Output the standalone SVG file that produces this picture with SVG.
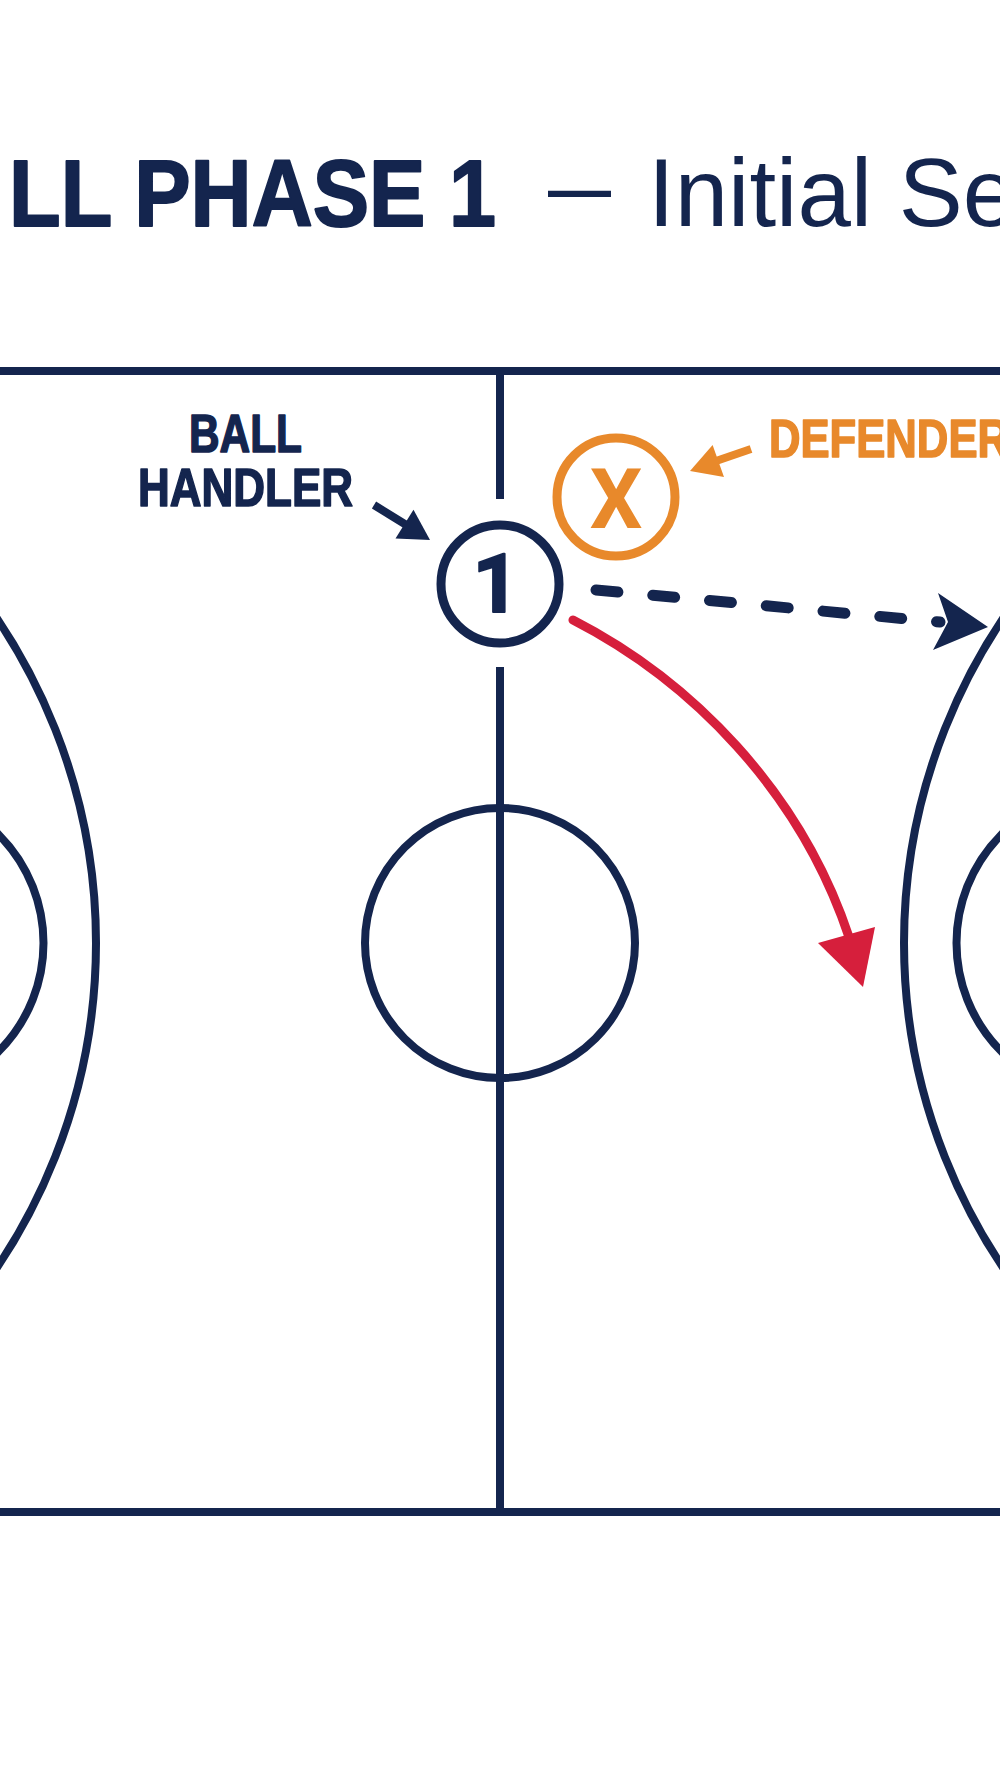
<svg xmlns="http://www.w3.org/2000/svg" width="1000" height="1792" viewBox="0 0 1000 1792">
<style>
.court{fill:none;stroke:#14254E;stroke-width:8}
.navy{fill:#14254E}
.orange{fill:#E8892B}
.red{fill:#D61F3C}
.title{font-family:"Liberation Sans",Arial,sans-serif;fill:#14254E}
.lbl{font-family:"Liberation Sans",Arial,sans-serif;font-weight:bold;font-size:53px;stroke-width:1.6;stroke-linejoin:round}
.num{font-family:Roboto,"Liberation Sans",Arial,sans-serif;font-weight:bold;text-anchor:middle;stroke-width:2;stroke-linejoin:round}
</style>
<rect width="1000" height="1792" fill="#FFFFFF"/>
<g id="title">
<text class="title" x="9" y="226" font-size="95" font-weight="bold" textLength="487" lengthAdjust="spacingAndGlyphs" stroke="#14254E" stroke-width="2" stroke-linejoin="round">LL PHASE 1</text>
<text class="title" x="548" y="218" font-size="95" textLength="63" lengthAdjust="spacingAndGlyphs">—</text>
<text class="title" x="648" y="226" font-size="96">Initial Se</text>
</g>
<g id="court">
<line class="court" x1="0" y1="371" x2="1000" y2="371"/>
<line class="court" x1="0" y1="1512" x2="1000" y2="1512"/>
<line class="court" x1="500" y1="371" x2="500" y2="499"/>
<line class="court" x1="500" y1="667" x2="500" y2="1512"/>
<circle class="court" cx="500" cy="943" r="135"/>
<circle class="court" cx="-485" cy="943" r="581"/>
<circle class="court" cx="-110" cy="943" r="153.5"/>
<circle class="court" cx="1485" cy="943" r="581"/>
<circle class="court" cx="1110" cy="943" r="153.5"/>
</g>
<g id="player1">
<circle cx="500" cy="584" r="59" fill="none" stroke="#14254E" stroke-width="9"/>
<text class="num navy" stroke="#14254E" x="496" y="612" font-size="82">1</text>
</g>
<g id="defender">
<circle cx="616" cy="497" r="59" fill="none" stroke="#E8892B" stroke-width="9"/>
<text class="num orange" x="616" y="528" font-size="83">X</text>
</g>
<g id="label-ball-handler">
<text class="lbl navy" stroke="#14254E" x="189" y="452" textLength="113" lengthAdjust="spacingAndGlyphs">BALL</text>
<text class="lbl navy" stroke="#14254E" x="138" y="506" textLength="215" lengthAdjust="spacingAndGlyphs">HANDLER</text>
</g>
<g id="label-defender">
<text class="lbl orange" stroke="#E8892B" x="769" y="457" textLength="240" lengthAdjust="spacingAndGlyphs">DEFENDER</text>
</g>
<g id="connectors">
<line x1="374" y1="505" x2="408" y2="526" stroke="#14254E" stroke-width="8"/>
<polygon class="navy" points="430,540 395.5,538.6 413.5,509.7"/>
<line x1="751" y1="449" x2="716" y2="461" stroke="#E8892B" stroke-width="8"/>
<polygon class="orange" points="690,471 712.6,445 724,477"/>
<line x1="596" y1="590" x2="940" y2="622" stroke="#14254E" stroke-width="11" stroke-linecap="round" stroke-dasharray="22 35"/>
<polygon class="navy" points="988,627 938,593 948,622 933,650"/>
<path d="M573,620 C690,680 800,790 849,937" fill="none" stroke="#D61F3C" stroke-width="9" stroke-linecap="round"/>
<polygon class="red" points="863,987 818,943 875,927"/>
</g>
</svg>
